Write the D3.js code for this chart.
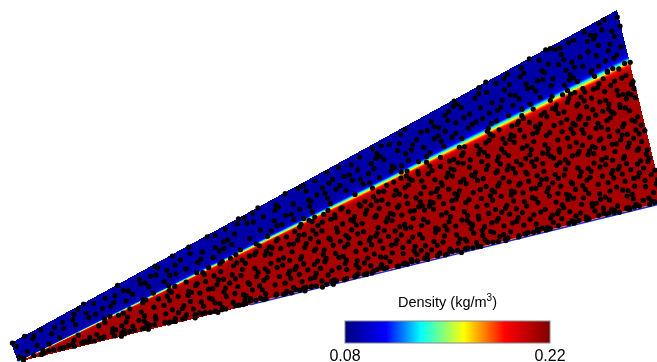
<!DOCTYPE html>
<html>
<head>
<meta charset="utf-8">
<script src="https://cdn.jsdelivr.net/npm/d3@7"></script>
<style>
  html, body { margin: 0; padding: 0; background: #fff; }
  #wrap { position: relative; width: 657px; height: 362px; overflow: hidden; }
  canvas, svg { position: absolute; left: 0; top: 0; }
</style>
</head>
<body>
<div id="wrap"></div>
<script>
// ---------- data ----------
// computational domain corners (physical units, m): apex, top-left, top-right, bottom-right
const domainX = [0.0274, 0.0167, 0.9391, 1.0107];
const domainY = [0.0000, 0.0289, 0.5358, 0.2420];
// oblique shock: from apex to right boundary
const shockX = [0.0274, 0.9589];
const shockY = [0.0000, 0.4581];
// shock half-thickness (m) at start and end (numerical smearing)
const shockWidth = [0.0011, 0.0080];
// density upstream (freestream) and downstream (shocked), kg/m^3
const densityLevels = [0.0885, 0.2105];
// colour bar
const colorbarDomain = [0.08, 0.22];
const colorbarTicks = ["0.08", "0.22"];
const colormapPos = [0.0, 0.2, 0.37, 0.58, 0.78, 1.0];
const colormapColors = ["#000080", "#0000ff", "#00ffff", "#ffff00", "#ff0000", "#800000"];
// particle counts: freestream region, shocked region, wall layer
const particleCounts = [280, 800, 110];

// ---------- setup ----------
const W = 657, H = 362;
const x = d3.scaleLinear().domain([0, 1]).range([0, W]);
const y = d3.scaleLinear().domain([0, H / W]).range([H, 0]);

const color = d3.scaleLinear()
  .domain(colormapPos.map(p => colorbarDomain[0] + p * (colorbarDomain[1] - colorbarDomain[0])))
  .range(colormapColors)
  .interpolate(d3.interpolateRgb)
  .clamp(true);

const poly = domainX.map((d, i) => [d, domainY[i]]);
const A = [shockX[0], shockY[0]], S = [shockX[1], shockY[1]];
const L = Math.hypot(S[0] - A[0], S[1] - A[1]);
const u = [(S[0] - A[0]) / L, (S[1] - A[1]) / L];
const n = [u[1], -u[0]]; // points into shocked (lower) region

function density(px, py) {
  const dx = px - A[0], dy = py - A[1];
  const s = Math.max(0, Math.min(1, (dx * u[0] + dy * u[1]) / L));
  const d = dx * n[0] + dy * n[1];
  const w = shockWidth[0] + (shockWidth[1] - shockWidth[0]) * s;
  return densityLevels[0] + (densityLevels[1] - densityLevels[0]) * 0.5 * (1 + Math.tanh(d / w));
}

const wrap = d3.select("#wrap");

// ---------- field (canvas) ----------
const canvas = wrap.append("canvas").attr("width", W).attr("height", H).node();
const ctx = canvas.getContext("2d");
const img = ctx.createImageData(W, H);
for (let py = 0; py < H; py++) {
  for (let px = 0; px < W; px++) {
    const dxv = x.invert(px + 0.5), dyv = y.invert(py + 0.5);
    const k = (py * W + px) * 4;
    if (d3.polygonContains(poly, [dxv, dyv])) {
      const c = d3.rgb(color(density(dxv, dyv)));
      img.data[k] = c.r; img.data[k + 1] = c.g; img.data[k + 2] = c.b; img.data[k + 3] = 255;
    } else {
      img.data[k + 3] = 0;
    }
  }
}
ctx.putImageData(img, 0, 0);

// ---------- svg overlay ----------
const svg = wrap.append("svg").attr("width", W).attr("height", H);

// wall layer (thin low-density line along the wedge wall)
const wallStart = 0.36;
const Dw = [domainX[3], domainY[3]];
const wallPts = [[A[0] + (Dw[0] - A[0]) * wallStart, A[1] + (Dw[1] - A[1]) * wallStart], Dw];
const line = d3.line().x(d => x(d[0])).y(d => y(d[1]));
svg.append("path").attr("d", line(wallPts)).attr("fill", "none")
  .attr("stroke", "#ff9a20").attr("stroke-width", 1).attr("transform", "translate(0,-1)");
svg.append("path").attr("d", line(wallPts)).attr("fill", "none")
  .attr("stroke", "#1428ff").attr("stroke-width", 1.3);

// particles: quasi-random (Halton) sampling of each region
function halton(i, b) { let f = 1, r = 0; while (i > 0) { f /= b; r += f * (i % b); i = Math.floor(i / b); } return r; }
function sample(polygon, count, offset) {
  const xs = polygon.map(p => p[0]), ys = polygon.map(p => p[1]);
  const x0 = d3.min(xs), x1 = d3.max(xs), y0 = d3.min(ys), y1 = d3.max(ys);
  const out = [];
  let i = offset;
  while (out.length < count && i < offset + 200000) {
    const p = [x0 + (x1 - x0) * halton(i, 2), y0 + (y1 - y0) * halton(i, 3)];
    if (d3.polygonContains(polygon, p)) out.push(p);
    i++;
  }
  return out;
}
const upstreamPoly = [A, poly[1], poly[2], S];
const downstreamPoly = [A, S, poly[3]];
const pts = sample(upstreamPoly, particleCounts[0], 17)
  .concat(sample(downstreamPoly, particleCounts[1], 5003));
// wall layer particles
const wallLen = Math.hypot(Dw[0] - A[0], Dw[1] - A[1]);
const wu = [(Dw[0] - A[0]) / wallLen, (Dw[1] - A[1]) / wallLen];
const wn = [-wu[1], wu[0]]; // into fluid
for (let i = 1; i <= particleCounts[2]; i++) {
  const s = halton(i + 300, 2) * wallLen;
  const o = 0.0025 + 0.0035 * halton(i + 300, 5);
  pts.push([A[0] + wu[0] * s + wn[0] * o, A[1] + wu[1] * s + wn[1] * o]);
}

svg.append("g").selectAll("circle").data(pts).join("circle")
  .attr("cx", d => x(d[0])).attr("cy", d => y(d[1]))
  .attr("r", 2.6).attr("fill", "#000");

// ---------- colour bar ----------
const cb = d3.scaleLinear().domain(colorbarDomain).range([345, 550]);
const defs = svg.append("defs");
const grad = defs.append("linearGradient").attr("id", "jet")
  .attr("x1", "0%").attr("x2", "100%").attr("y1", "0%").attr("y2", "0%");
grad.selectAll("stop").data(colormapPos).join("stop")
  .attr("offset", d => (d * 100) + "%")
  .attr("stop-color", (d, i) => colormapColors[i]);

svg.append("rect")
  .attr("x", cb.range()[0]).attr("y", 321)
  .attr("width", cb.range()[1] - cb.range()[0]).attr("height", 22)
  .attr("fill", "url(#jet)").attr("stroke", "#888").attr("stroke-width", 1);

const title = svg.append("text")
  .attr("x", (cb.range()[0] + cb.range()[1]) / 2).attr("y", 306.5)
  .attr("text-anchor", "middle")
  .attr("font-family", "Liberation Sans, Arial, Helvetica, sans-serif")
  .attr("font-size", 14.5).attr("fill", "#000");
title.append("tspan").text("Density (kg/m");
title.append("tspan").attr("font-size", 10).attr("dy", -6).text("3");
title.append("tspan").attr("dy", 6).text(")");

svg.append("g").selectAll("text").data(colorbarTicks).join("text")
  .attr("x", d => cb(+d)).attr("y", 361)
  .attr("text-anchor", "middle")
  .attr("font-family", "Liberation Sans, Arial, Helvetica, sans-serif")
  .attr("font-size", 16).attr("fill", "#000")
  .text(d => d);
</script>
</body>
</html>
